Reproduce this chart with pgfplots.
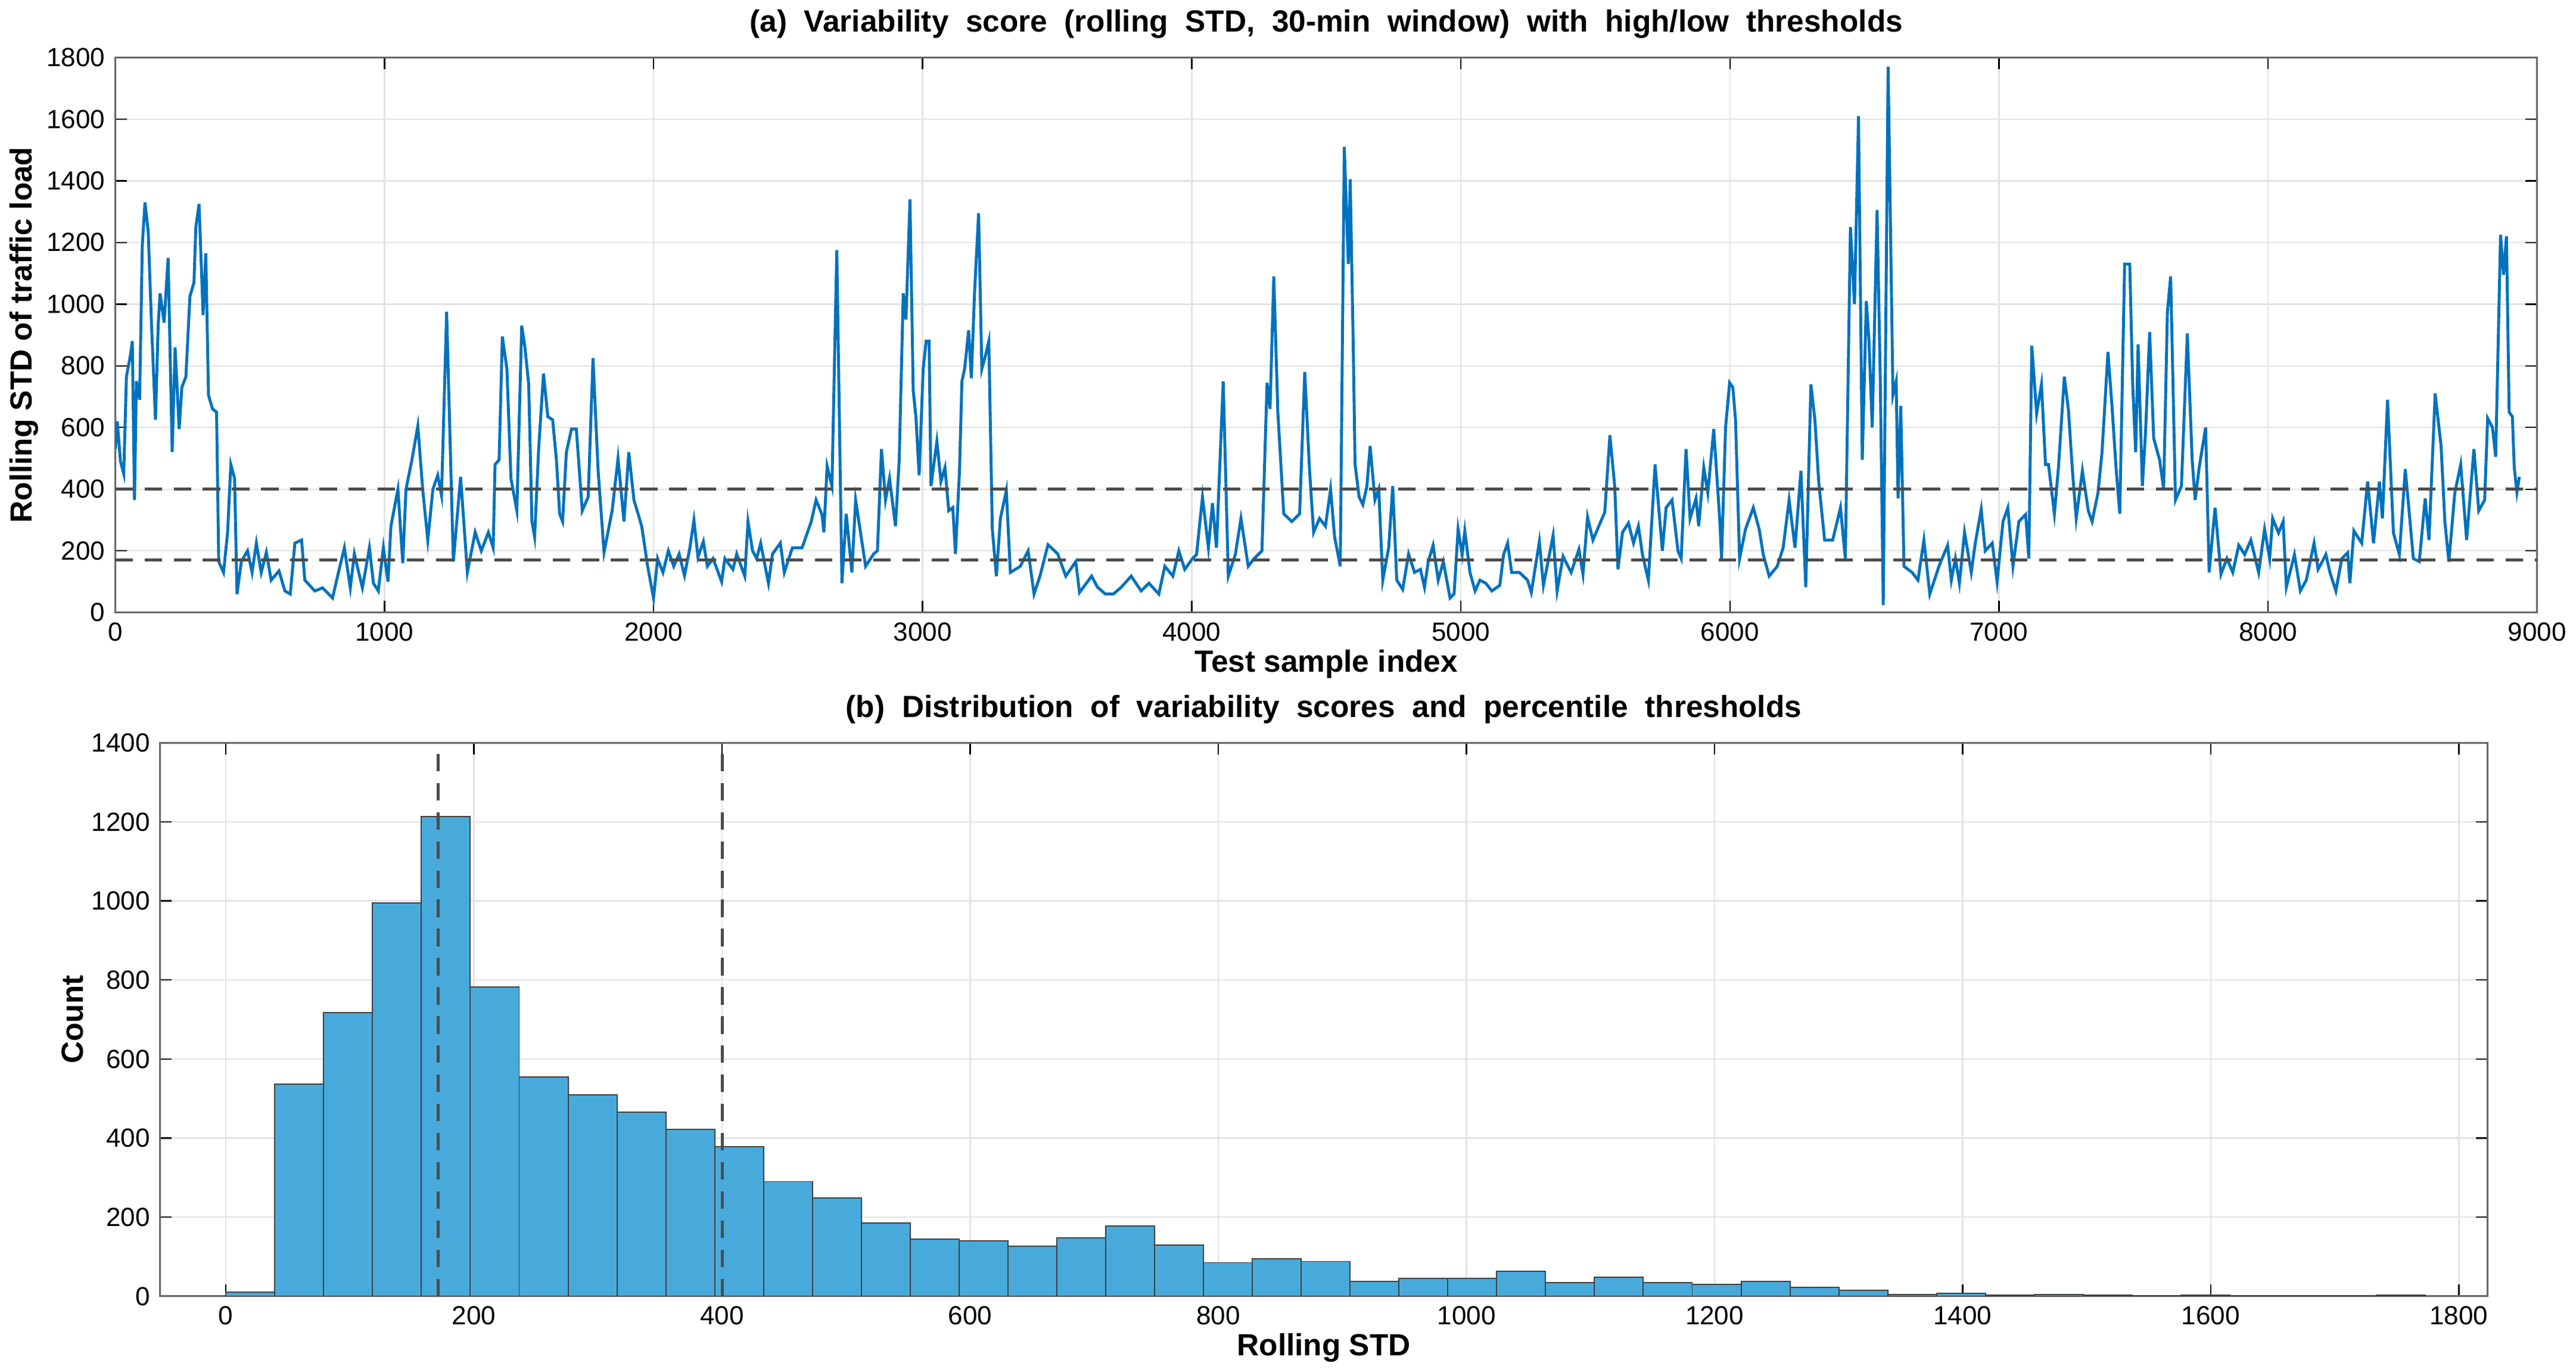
\documentclass[border=0pt]{standalone}
\usepackage{pgfplots}
\pgfplotsset{compat=1.18}
\usepackage{fontspec}
\setmainfont{Liberation Sans}
\definecolor{mblue}{RGB}{0,114,189}
\definecolor{hblue}{RGB}{72,170,219}
\begin{document}
\begin{tikzpicture}
\pgfplotsset{every axis/.style={scale only axis,
  axis line style={gray!80!black,line width=0.6pt},
  grid=major, grid style={gray!22,line width=0.5pt},
  tick align=inside, tick style={black,line width=0.5pt},
  major tick length=4pt,
  /pgf/number format/assume math mode=true,
  /pgf/number format/1000 sep={},
  ticklabel style={font=\fontsize{9}{10}\selectfont},
  label style={font=\bfseries\fontsize{10.5}{12}\selectfont},
  title style={font=\bfseries\fontsize{10.5}{12}\selectfont, yshift=-3pt},
}}
\begin{axis}[at={(0,8.24cm)}, anchor=south west, width=29.2cm, height=6.69cm,
  xmin=0, xmax=9000, ymin=0, ymax=1800,
  xtick={0,1000,...,9000}, ytick={0,200,...,1800},
  xlabel={Test sample index}, ylabel={Rolling STD of traffic load},
  xlabel style={yshift=4pt}, ylabel style={yshift=-4pt},
  title={(a)\ \ Variability\ \ score\ \ (rolling\ \ STD,\ \ 30-min\ \ window)\ \ with\ \ high/low\ \ thresholds}]
\addplot[mblue, line width=1pt] coordinates {
(0,530)(7,620)(19,490)(31,450)(41,765)(56,835)(63,880)(71,365)(78,750)(90,690)(100,1190)(110,1330)(122,1235)(134,940)(149,625)(159,930)(166,1035)(181,940)(196,1150)(211,520)(222,860)(237,595)(247,730)(262,765)(277,1025)(292,1070)(299,1250)(311,1325)(326,965)(336,1165)(346,705)(361,660)(376,650)(384,165)(402,130)(417,260)(429,480)(443,435)(452,60)(468,165)(491,200)(508,130)(524,225)(542,130)(561,195)(579,105)(608,135)(630,70)(650,60)(667,225)(692,235)(704,105)(741,70)(770,80)(807,47)(829,130)(851,210)(873,80)(888,190)(918,80)(944,210)(959,95)(977,70)(996,210)(1013,100)(1024,280)(1050,400)(1068,160)(1080,400)(1102,495)(1124,605)(1142,400)(1161,235)(1180,400)(1198,445)(1212,380)(1231,975)(1256,165)(1283,440)(1308,130)(1337,260)(1360,200)(1386,260)(1404,210)(1411,480)(1426,495)(1438,895)(1455,790)(1470,435)(1492,330)(1510,930)(1522,860)(1536,740)(1548,295)(1558,245)(1573,530)(1591,775)(1607,635)(1625,625)(1639,495)(1651,320)(1662,295)(1676,520)(1695,595)(1713,595)(1735,330)(1757,375)(1775,825)(1794,460)(1816,195)(1846,330)(1868,500)(1890,295)(1908,520)(1927,365)(1956,280)(1978,150)(2000,47)
(2015,175)(2035,130)(2055,200)(2075,150)(2095,190)(2115,120)(2135,210)(2150,300)(2165,180)(2185,230)(2200,150)
(2221,175)(2253,100)(2265,175)(2295,140)(2309,190)(2339,118)(2351,295)(2368,200)(2383,175)(2398,225)(2427,95)(2442,190)(2471,225)(2486,130)(2516,210)(2552,210)(2586,295)(2604,365)(2626,318)(2633,260)(2645,475)(2663,410)(2681,1175)(2700,95)(2716,320)(2737,130)(2751,365)(2769,260)(2788,150)(2818,190)(2832,200)(2847,530)(2862,365)(2877,435)(2899,280)(2913,495)(2928,1035)(2938,950)(2953,1340)(2965,720)(2975,635)(2987,445)(3002,790)(3013,880)(3024,880)(3031,410)(3053,555)(3068,425)(3083,470)(3097,330)(3112,340)(3122,190)(3137,460)(3146,750)(3156,790)(3171,915)(3181,760)(3193,1040)(3208,1295)(3220,790)(3234,835)(3246,880)(3259,270)(3274,118)(3289,305)(3311,395)(3326,130)(3363,150)(3392,200)(3414,60)(3436,118)(3466,220)(3502,190)(3532,118)(3569,165)(3583,65)(3628,118)(3650,82)(3679,60)(3709,60)(3738,82)(3775,118)(3812,70)(3841,95)(3878,60)(3900,150)(3930,118)(3952,200)(3974,140)(4003,175)(4018,188)(4040,375)(4062,210)(4077,355)(4092,210)(4117,750)(4136,118)(4162,188)(4183,305)(4210,150)(4232,175)(4261,200)(4280,745)(4291,660)(4305,1090)(4320,650)(4342,320)(4372,295)(4401,320)(4420,780)(4438,460)(4453,260)(4475,305)(4497,280)(4516,400)(4531,245)
(4552,150)(4567,1510)(4582,1130)(4589,1405)(4600,880)(4607,480)(4622,375)(4636,350)(4651,410)(4663,540)(4681,365)(4695,400)(4710,105)(4732,210)(4747,410)(4762,105)(4784,75)(4806,190)(4828,130)(4850,140)(4865,82)(4879,165)(4897,218)(4916,105)(4935,165)(4960,47)(4975,60)(4990,270)(5005,188)(5015,265)(5034,130)(5053,70)(5071,105)(5093,95)(5115,70)(5145,88)(5159,188)(5174,225)(5189,130)(5218,130)(5248,105)(5262,65)(5292,230)(5307,88)(5343,250)(5358,70)(5380,182)(5410,130)(5439,205)(5454,124)(5471,310)(5491,235)(5520,295)(5535,325)(5554,575)(5572,410)(5584,140)(5601,260)(5623,290)(5642,225)(5660,280)(5675,188)(5697,105)(5722,480)(5749,200)(5763,340)(5785,365)(5807,200)(5819,175)(5837,530)(5852,305)(5874,370)(5884,280)(5903,470)(5918,388)(5940,595)(5962,305)(5969,175)(5984,600)(5999,745)(6011,730)(6021,625)(6036,175)(6058,270)(6087,340)(6109,270)(6124,188)(6146,118)(6176,150)(6198,210)(6220,365)(6242,210)(6264,460)(6282,82)(6301,740)(6316,625)(6330,425)(6352,235)(6382,235)(6411,340)(6429,175)(6448,1250)(6463,1000)(6478,1610)(6492,495)(6507,1010)(6517,880)(6529,600)(6547,1305)(6559,750)(6570,24)(6588,1770)(6606,705)(6618,750)(6625,370)(6635,670)(6647,150)(6677,130)(6699,105)(6721,235)(6743,60)(6777,150)
(6809,218)(6823,105)(6838,175)(6853,95)(6872,260)(6897,130)(6912,225)(6934,335)(6949,200)(6975,225)(6993,100)(7015,295)(7033,340)(7052,150)(7074,295)(7099,318)(7111,175)(7122,865)(7140,645)(7158,740)(7173,480)(7184,480)(7206,320)(7221,470)(7243,765)(7258,658)(7273,460)(7287,305)(7310,460)(7332,330)(7346,295)(7368,388)(7383,520)(7405,845)(7420,670)(7435,470)(7449,320)(7467,1130)(7486,1130)(7497,740)(7508,520)(7517,870)(7533,410)(7545,590)(7560,910)(7575,565)(7597,495)(7612,400)(7626,975)(7638,1090)(7656,365)(7678,410)(7700,905)(7718,495)(7729,365)(7744,470)(7768,600)(7781,130)(7803,340)(7825,124)(7847,175)(7869,130)(7891,218)(7913,188)(7936,235)(7965,130)(7987,270)(8006,175)(8017,305)(8039,258)(8056,295)(8068,82)(8098,188)(8120,70)(8142,105)(8171,225)(8186,140)(8215,188)(8230,130)(8252,70)(8274,175)(8296,194)(8304,95)(8319,265)(8348,225)(8370,425)(8392,225)(8414,425)(8425,305)(8444,690)(8466,258)(8488,188)(8510,465)(8540,175)(8562,165)(8584,370)(8598,235)(8621,710)(8643,540)(8657,295)(8672,165)(8694,388)(8716,480)(8738,235)(8765,530)(8783,330)(8805,365)(8816,630)(8834,600)(8846,505)(8864,1225)(8875,1095)(8886,1220)(8896,650)(8908,635)(8915,470)(8925,390)(8934,440)
};
\addplot[black!70, dash pattern=on 6pt off 4pt, line width=1pt] coordinates {(0,400)(9000,400)};
\addplot[black!70, dash pattern=on 6pt off 4pt, line width=1pt] coordinates {(0,171)(9000,171)};
\end{axis}
\begin{axis}[at={(0.54cm,0)}, anchor=south west, width=28.06cm, height=6.67cm,
  xmin=-53, xmax=1823, ymin=0, ymax=1400,
  xtick={0,200,...,1800}, ytick={0,200,...,1400},
  xlabel={Rolling STD}, ylabel={Count},
  xlabel style={yshift=4pt}, ylabel style={yshift=-4pt},
  title={(b)\ \ Distribution\ \ of\ \ variability\ \ scores\ \ and\ \ percentile\ \ thresholds}]
\addplot[ybar interval, fill=hblue, draw=black!75, line width=0.4pt] coordinates {
(0,10)(39.4,537)(78.8,718)(118.2,995)(157.6,1213)(197,783)(236.4,555)(275.8,510)(315.2,465)(354.6,422)(394,378)(433.4,290)(472.8,248)(512.2,185)(551.6,145)(591,140)(630.4,127)(669.8,148)(709.2,178)(748.6,130)(788,85)(827.4,95)(866.8,88)(906.2,38)(945.6,45)(985,45)(1024.4,63)(1063.8,35)(1103.2,48)(1142.6,35)(1182,30)(1221.4,38)(1260.8,22)(1300.2,15)(1339.6,5)(1379,8)(1418.4,3)(1457.8,5)(1497.2,3)(1536.6,2)(1576,3)(1615.4,2)(1654.8,2)(1694.2,2)(1733.6,3)(1773,3)
};
\addplot[black!70, dash pattern=on 6pt off 4pt, line width=1pt] coordinates {(171,0)(171,1400)};
\addplot[black!70, dash pattern=on 6pt off 4pt, line width=1pt] coordinates {(400,0)(400,1400)};
\end{axis}
\end{tikzpicture}
\end{document}
